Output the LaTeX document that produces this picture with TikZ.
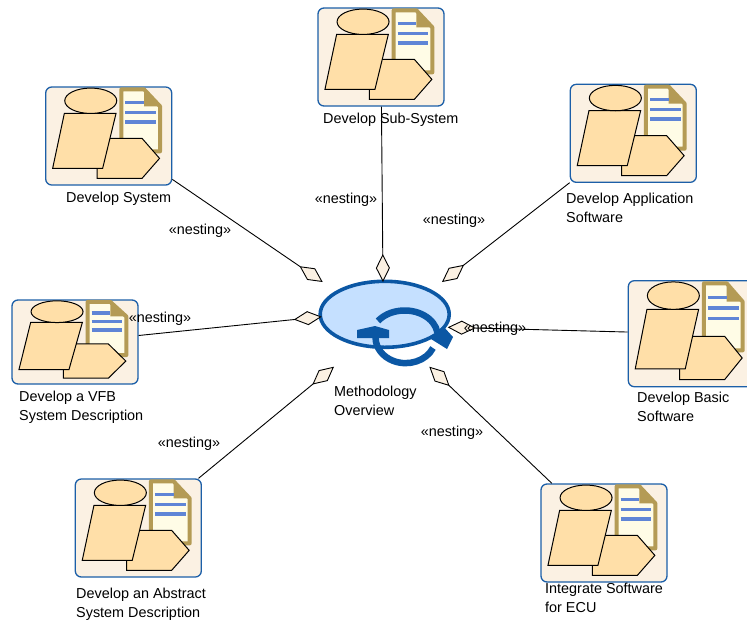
\documentclass[tikz,border=0pt]{standalone}
\usepackage{fontspec}
\setmainfont{Liberation Sans}
\usetikzlibrary{arrows.meta,shapes.geometric}
\definecolor{boxfill}{HTML}{FBF1E3}
\definecolor{boxline}{HTML}{1C5FA8}
\definecolor{partfill}{HTML}{FFDFA8}
\definecolor{docline}{HTML}{B49B55}
\definecolor{docfill}{HTML}{FFFCE6}
\definecolor{docrule}{HTML}{5F85D6}
\definecolor{flowfill}{HTML}{C5E0FF}
\definecolor{flowline}{HTML}{0B57A4}
\tikzset{
  taskicon/.pic={
    \draw[line width=4pt, docline, fill=docfill, line join=round]
      (76.3,-3) -- (99,-3) -- (115,-20) -- (115,-65) -- (76.3,-65) -- cycle;
    \fill[docline] (99,-3) -- (115,-20) -- (99,-20) -- cycle;
    \draw[line width=3.5pt, docrule] (80.3,-16) -- (99,-16);
    \draw[line width=3.5pt, docrule] (80.3,-26) -- (111,-26);
    \draw[line width=3.5pt, docrule] (80.3,-35.5) -- (111,-35.5);
    \draw[fill=partfill, line width=1pt] (52,-52) -- (97,-52) -- (114.5,-72) -- (97,-92) -- (52,-92) -- cycle;
    \draw[fill=partfill, line width=1pt] (19.3,-27) -- (71,-27) -- (57.6,-82) -- (7.6,-82) -- cycle;
    \draw[fill=partfill, line width=1pt] (45.7,-14.4) ellipse [x radius=26, y radius=12.7];
  },
  cyclearrows/.pic={
    \draw[line width=6.5pt, flowline] (378,-321) arc [start angle=144, end angle=8, x radius=33, y radius=25.5];
    \draw[line width=6.5pt, flowline] (433,-348) arc [start angle=-24, end angle=-180, x radius=30, y radius=25.5];
    \fill[flowline] (357,-330) -- (375,-326) -- (389,-330) -- (389,-338) -- (357,-338) -- cycle;
    \fill[flowline] (431,-339) -- (443,-326) -- (453,-337) -- (447,-349) -- cycle;
  }
}
\begin{document}
\begin{tikzpicture}[x=1pt, y=1pt,
% common options for the boxes:
taskbox/.style = {rectangle, draw=boxline, fill=boxfill, line width=1.3pt, rounded corners=6pt,
            minimum width=126pt, minimum height=98pt, inner sep=0},
% common options for the ellipse:
flowball/.style = {ellipse, draw=flowline, fill=flowfill, line width=3.6pt,
            minimum width=129pt, minimum height=66pt, inner sep=0},
tasklabel/.style = {anchor=base west, align=left, inner sep=0, font=\fontsize{14.4}{19}\selectfont},
nestlabel/.style = {anchor=center, inner sep=0, font=\fontsize{14.4}{19}\selectfont},
nesting/.style = {line width=0.9pt, -{Diamond[length=28pt, width=14pt, fill=boxfill, line width=0.9pt]}}]
\useasboundingbox (0,0) rectangle (747,-622);
% tasks
\node[taskbox] (sys) at (108.7,-136) {};
\node[taskbox] (sub) at (381,-57) {};
\node[taskbox] (app) at (633.3,-133.3) {};
\node[taskbox, minimum height=106pt] (basic) at (691.3,-333.7) {};
\node[taskbox, minimum height=84pt] (vfb) at (75,-342) {};
\node[taskbox] (abstract) at (138.3,-528) {};
\node[taskbox] (integrate) at (604,-533) {};
\pic at (sys.north west) {taskicon};
\pic at (sub.north west) {taskicon};
\pic at (app.north west) {taskicon};
\pic[yscale=1.082] at (basic.north west) {taskicon};
\pic[yscale=0.857] at (vfb.north west) {taskicon};
\pic at (abstract.north west) {taskicon};
\pic at (integrate.north west) {taskicon};
% centre
\node[flowball] (overview) at (384.7,-314.3) {};
\pic {cyclearrows};
% labels
\node[tasklabel] (sysT) at (66,-202) {Develop System};
\node[tasklabel] (subT) at (323,-123) {Develop Sub-System};
\node[tasklabel] (appT) at (566,-222) {Develop Application\\Software};
\node[tasklabel] (basicT) at (637,-421) {Develop Basic\\Software};
\node[tasklabel] (vfbT) at (19,-420) {Develop a VFB\\System Description};
\node[tasklabel] (abstractT) at (76,-617) {Develop an Abstract\\System Description};
\node[tasklabel] (integrateT) at (545,-612) {Integrate Software\\for ECU};
\node[tasklabel] (overviewT) at (334,-415) {Methodology\\Overview};
% free ends
\coordinate (sysE) at (322.7,-282);
\coordinate (subE) at (383,-282);
\coordinate (appE) at (442,-282);
\coordinate (basicE) at (447.7,-327.3);
\coordinate (vfbE) at (321.7,-316.7);
\coordinate (abstractE) at (334,-366.7);
\coordinate (integrateE) at (429.3,-366.7);
\draw[nesting] (sys) -- (sysE);
\draw[nesting] (sub) -- (subE);
\draw[nesting] (app) -- (appE);
\draw[nesting] (basic) -- (basicE);
\draw[nesting] (vfb) -- (vfbE);
\draw[nesting] (abstract) -- (abstractE);
\draw[nesting] (integrate) -- (integrateE);
\node[nestlabel] (sysN) at (200,-231) {«nesting»};
\node[nestlabel] (subN) at (346,-200) {«nesting»};
\node[nestlabel] (appN) at (454,-221) {«nesting»};
\node[nestlabel] (basicN) at (495,-329) {«nesting»};
\node[nestlabel] (vfbN) at (160,-319) {«nesting»};
\node[nestlabel] (abstractN) at (189,-444) {«nesting»};
\node[nestlabel] (integrateN) at (452,-433) {«nesting»};
\end{tikzpicture}
\end{document}
